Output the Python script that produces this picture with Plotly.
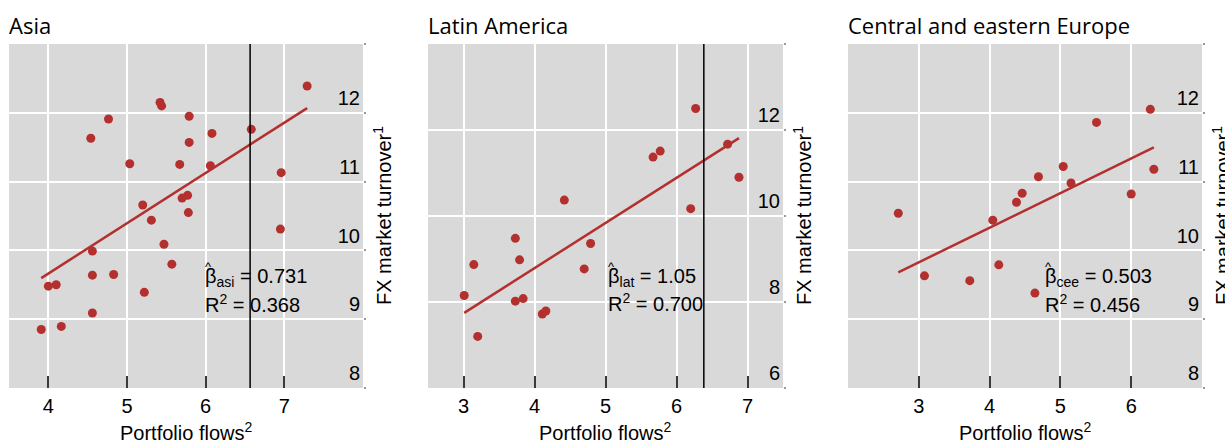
import plotly.graph_objects as go

# Portfolio flows (x) and FX market turnover (y), by region
asia_flows = [7.29, 5.42, 5.44, 4.765, 5.79, 4.54, 5.79, 6.08, 6.58, 5.035,
              5.67, 6.06, 6.96, 5.20, 5.70, 5.77, 5.78, 5.31, 6.95, 5.47,
              4.56, 5.57, 4.56, 4.83, 4.00, 4.10, 5.22, 4.56, 3.91, 4.165]
asia_turnover = [12.39, 12.15, 12.10, 11.91, 11.95, 11.63, 11.57, 11.70, 11.76, 11.26,
                 11.25, 11.23, 11.13, 10.66, 10.76, 10.80, 10.55, 10.44, 10.31, 10.09,
                 9.99, 9.80, 9.64, 9.65, 9.48, 9.50, 9.39, 9.09, 8.85, 8.895]

latam_flows = [6.27, 5.67, 5.77, 6.72, 6.88, 4.42, 6.20, 3.73, 4.79, 3.79,
               3.145, 4.70, 3.01, 3.73, 3.84, 4.11, 4.16, 3.20]
latam_turnover = [12.50, 11.37, 11.51, 11.67, 10.90, 10.37, 10.17, 9.48, 9.36, 8.98,
                  8.87, 8.77, 8.15, 8.02, 8.08, 7.72, 7.79, 7.20]

cee_flows = [6.27, 5.51, 5.04, 6.32, 4.69, 5.15, 4.46, 6.00, 4.38, 2.71,
             4.045, 4.13, 3.08, 3.72, 4.64]
cee_turnover = [12.05, 11.86, 11.22, 11.18, 11.07, 10.98, 10.83, 10.82, 10.70, 10.54,
                10.44, 9.79, 9.63, 9.56, 9.38]

titles = ["Asia", "Latin America", "Central and eastern Europe"]
subscripts = ["asi", "lat", "cee"]
betas = [0.731, 1.05, 0.503]
beta_text = ["0.731", "1.05", "0.503"]
r2_text = ["0.368", "0.700", "0.456"]
vlines = [6.565, 6.385, None]

x_ranges = [[3.5, 8.0], [2.5, 7.5], [2.0, 7.0]]
y_ranges = [[8, 13], [6, 14], [8, 13]]
x_ticks = [[4, 5, 6, 7], [3, 4, 5, 6, 7], [3, 4, 5, 6]]
y_ticks = [[8, 9, 10, 11, 12, 13], [6, 8, 10, 12, 14], [8, 9, 10, 11, 12, 13]]
y_ticklabels = [["8", "9", "10", "11", "12", ""], ["6", "8", "10", "12", ""],
                ["8", "9", "10", "11", "12", ""]]
label_pos = [(5.97, 9.60, 9.23), (5.01, 8.56, 7.98), (4.76, 9.60, 9.23)]

data_x = [asia_flows, latam_flows, cee_flows]
data_y = [asia_turnover, latam_turnover, cee_turnover]

W, H = 1225, 442
panel_px = [(9, 363), (428, 783), (848, 1202)]
top_px, bot_px = 44, 388

RED = "#B3302E"
BG = "#D9D9D9"
TXT = "#000000"
SANS = "Liberation Sans, Arial, sans-serif"
HEAD = "Open Sans, Noto Sans, sans-serif"
FS = 20

fig = go.Figure()
layout = dict(
    width=W, height=H,
    margin=dict(l=0, r=0, t=0, b=0),
    paper_bgcolor="white",
    plot_bgcolor=BG,
    showlegend=False,
    font=dict(family=SANS, size=FS, color=TXT),
    annotations=[], shapes=[],
)

ydom = [(H - bot_px) / H, (H - top_px) / H]

for i in range(3):
    n = "" if i == 0 else str(i + 1)
    xa, ya = "x" + n, "y" + n
    xs, ys = data_x[i], data_y[i]

    fig.add_trace(go.Scatter(
        x=xs, y=ys, mode="markers", xaxis=xa, yaxis=ya,
        marker=dict(color=RED, size=9, line=dict(width=0)),
        hoverinfo="skip"))

    # fitted line through the means with the reported slope
    mx = sum(xs) / len(xs)
    my = sum(ys) / len(ys)
    b = betas[i]
    a = my - b * mx
    lx = [min(xs), max(xs)]
    fig.add_trace(go.Scatter(
        x=lx, y=[a + b * v for v in lx], mode="lines", xaxis=xa, yaxis=ya,
        line=dict(color=RED, width=2.5), hoverinfo="skip"))

    x0, x1 = panel_px[i]
    layout["xaxis" + n] = dict(
        domain=[x0 / W, x1 / W], anchor=ya, range=x_ranges[i],
        tickvals=x_ticks[i], showgrid=True, gridcolor="white", gridwidth=1.5,
        zeroline=False, showline=False,
        ticks="inside", ticklen=12, tickwidth=2, tickcolor="#3A3A3A",
        tickfont=dict(family=SANS, size=FS, color=TXT),
        ticklabelstandoff=4,
        fixedrange=True,
    )
    layout["yaxis" + n] = dict(
        domain=ydom, anchor=xa, side="right", range=y_ranges[i],
        tickvals=y_ticks[i], ticktext=y_ticklabels[i],
        showgrid=True, gridcolor="white", gridwidth=1.5,
        zeroline=False, showline=False,
        ticks="outside", ticklen=2, tickwidth=1.5, tickcolor="#9A9A9A",
        ticklabelposition="inside top",
        tickfont=dict(family=SANS, size=FS, color=TXT),
        fixedrange=True,
    )

    if vlines[i] is not None:
        layout["shapes"].append(dict(
            type="line", xref=xa, yref=ya + " domain",
            x0=vlines[i], x1=vlines[i], y0=0, y1=1,
            line=dict(color="black", width=1.5)))

    # panel title
    layout["annotations"].append(dict(
        text=titles[i], xref="paper", yref="paper",
        x=(x0 - 2) / W, y=(H - 25) / H, xanchor="left", yanchor="middle",
        showarrow=False, font=dict(family=HEAD, size=22, color=TXT)))

    # x axis title
    layout["annotations"].append(dict(
        text="Portfolio flows<sup>2</sup>", xref="paper", yref="paper",
        x=(x0 + x1) / 2 / W, y=(H - 431) / H, xanchor="center", yanchor="middle",
        showarrow=False, font=dict(family=SANS, size=FS, color=TXT)))

    # y axis title on the right
    layout["annotations"].append(dict(
        text="FX market turnover<sup>1</sup>", xref="paper", yref="paper",
        x=(x1 + 19) / W, y=(H - 216) / H, xanchor="center", yanchor="middle",
        textangle=-90, showarrow=False,
        font=dict(family=SANS, size=FS, color=TXT)))

    # regression statistics
    lx0, ly1, ly2 = label_pos[i]
    layout["annotations"].append(dict(
        text="\u03b2<sub>" + subscripts[i] + "</sub> = " + beta_text[i],
        xref=xa, yref=ya, x=lx0, y=ly1, xanchor="left", yanchor="middle",
        showarrow=False, font=dict(family=SANS, size=FS, color=TXT)))
    # hat over the beta
    layout["annotations"].append(dict(
        text="^", xref=xa, yref=ya, x=lx0, y=ly1, xanchor="left", yanchor="middle",
        xshift=0, yshift=11, showarrow=False,
        font=dict(family=SANS, size=13, color=TXT)))
    layout["annotations"].append(dict(
        text="R<sup>2</sup> = " + r2_text[i],
        xref=xa, yref=ya, x=lx0, y=ly2, xanchor="left", yanchor="middle",
        showarrow=False, font=dict(family=SANS, size=FS, color=TXT)))

fig.update_layout(**layout)
fig.write_html("out.html")
